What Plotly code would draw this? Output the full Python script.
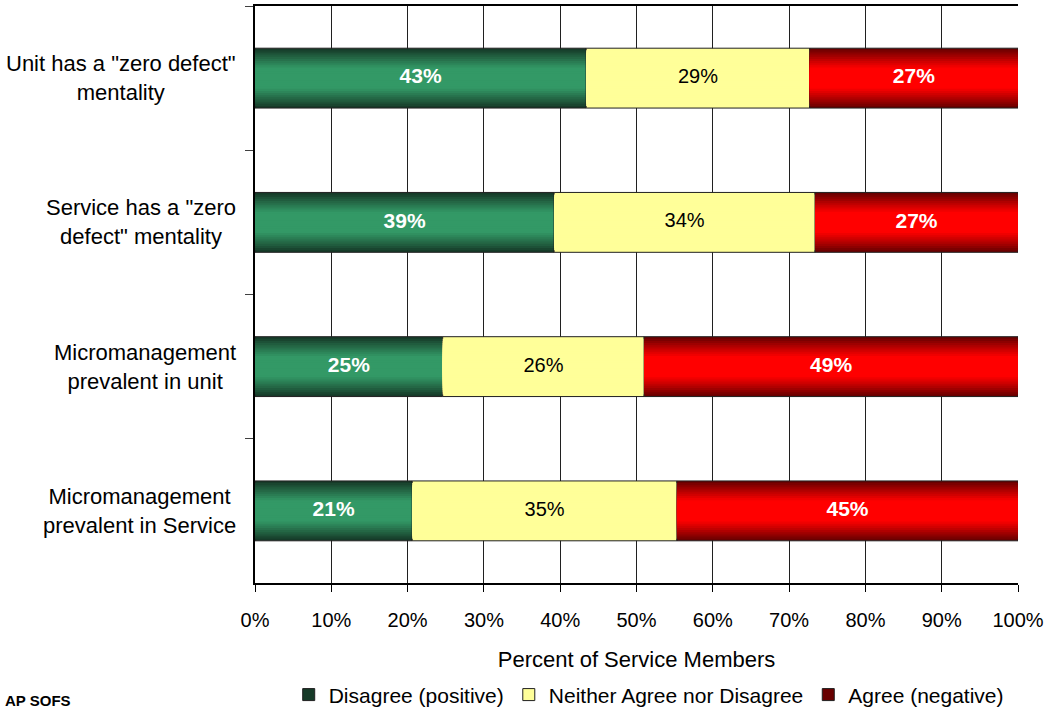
import plotly.graph_objects as go

# Survey items (top to bottom) and response shares in percent
items = [
    'Unit has a "zero defect"<br>mentality',
    'Service has a "zero<br>defect" mentality',
    'Micromanagement<br>prevalent in unit',
    'Micromanagement<br>prevalent in Service',
]
disagree = [43.4, 39.2, 24.6, 20.6]
neither = [29.3, 34.2, 26.4, 34.7]
agree = [27.3, 26.6, 49.0, 44.7]

series_names = ["Disagree (positive)", "Neither Agree nor Disagree", "Agree (negative)"]
x_ticks = [0, 10, 20, 30, 40, 50, 60, 70, 80, 90, 100]

FONT = "Liberation Sans, Arial, sans-serif"
BAR_W = 0.415
LAYERS = 14

# edge colour, centre colour, label colour, label bold
styles = [
    ((22, 58, 40), (51, 153, 102), "white", True),
    ((255, 255, 153), (255, 255, 153), "black", False),
    ((105, 0, 0), (255, 0, 0), "white", True),
]


def mix(c0, c1, t):
    return "rgb(%d,%d,%d)" % tuple(round(a + (b - a) * t) for a, b in zip(c0, c1))


fig = go.Figure()
values = [disagree, neither, agree]
bases = [[0] * len(items), list(disagree), [d + n for d, n in zip(disagree, neither)]]

for s, (vals, base, name, (edge, centre, tcol, bold)) in enumerate(
    zip(values, bases, series_names, styles)
):
    # shaded bar: nested bars, narrowing toward the centre and lightening
    for k in range(LAYERS):
        d = 1 - k / LAYERS  # distance from the bar's centre line (1 = edge)
        t = min(max((d - 0.35) / 0.65, 0), 1) ** 1.1
        outer = k == 0
        fig.add_trace(go.Bar(
            y=items, x=vals, base=base, orientation="h",
            width=BAR_W * d,
            marker=dict(
                color=mix(centre, edge, t),
                line=dict(color="#202020", width=1 if outer else 0),
            ),
            name=name, legendgroup=name, showlegend=outer,
            hoverinfo="skip" if not outer else None,
        ))
    # value labels in the middle of each segment
    fig.add_trace(go.Scatter(
        y=items, x=[b + v / 2 for b, v in zip(base, vals)],
        mode="text", text=["%d%%" % round(v) for v in vals],
        textfont=dict(family=FONT, size=21 if bold else 20, color=tcol,
                      weight="bold" if bold else "normal"),
        showlegend=False, hoverinfo="skip",
    ))

# centred, multi-line category labels
for it in items:
    fig.add_annotation(
        x=-0.0225, xref="paper", xanchor="right", y=it, yref="y",
        text=it, showarrow=False, align="center",
        font=dict(family=FONT, size=22, color="black"),
    )

fig.add_annotation(
    x=0, xref="paper", xanchor="left", y=-0.208, yref="paper", yanchor="top",
    xshift=-252, yshift=13, text="<b>AP SOFS</b>", showarrow=False,
    font=dict(family=FONT, size=15, color="black"),
)

fig.update_layout(
    width=1048, height=711,
    margin=dict(l=255, r=30, t=6, b=128, autoexpand=False),
    barmode="overlay",
    plot_bgcolor="white", paper_bgcolor="white",
    font=dict(family=FONT, size=20, color="black"),
    xaxis=dict(
        range=[0, 100], tickvals=x_ticks,
        ticktext=["%d%%" % v for v in x_ticks],
        showgrid=True, gridcolor="#202020", gridwidth=1,
        showline=True, linecolor="black", linewidth=1.5, mirror=True,
        ticks="outside", ticklen=7, tickcolor="black",
        ticklabelstandoff=11, automargin=False,
        title=dict(text="Percent of Service Members", standoff=22,
                   font=dict(family=FONT, size=22)),
        zeroline=False, fixedrange=True,
    ),
    yaxis=dict(
        type="category", categoryorder="array", categoryarray=items,
        autorange="reversed", showticklabels=False, automargin=False,
        tickson="boundaries", ticks="outside", ticklen=8, tickcolor="#404040",
        showgrid=False, showline=True, linecolor="black", linewidth=1.5,
        fixedrange=True,
    ),
    legend=dict(
        orientation="h", x=0.516, xanchor="center", y=-0.194, yanchor="middle",
        font=dict(family=FONT, size=21), itemwidth=30, traceorder="normal",
    ),
    showlegend=True,
)

fig.write_html("out.html")
